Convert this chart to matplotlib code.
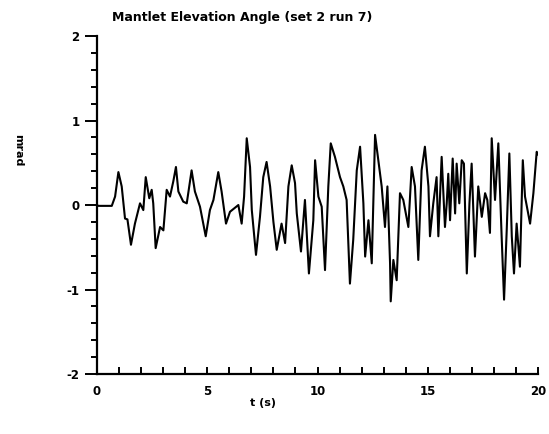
import matplotlib
matplotlib.use("Agg")
import matplotlib.pyplot as plt
from matplotlib.ticker import MultipleLocator

plt.rcParams["axes.unicode_minus"] = False

# valores (tempo em s, ângulo em mrad)
t = [0.0, 0.06, 0.67, 0.82, 0.97, 1.12, 1.27, 1.38, 1.54, 1.72, 1.95, 2.1, 2.21,
     2.37, 2.48, 2.55, 2.66, 2.86, 3.01, 3.16, 3.31, 3.46, 3.58, 3.69, 3.91, 4.07,
     4.29, 4.44, 4.67, 4.93, 5.12, 5.28, 5.5, 5.65, 5.85, 6.03, 6.41, 6.56, 6.67,
     6.79, 6.94, 7.02, 7.21, 7.39, 7.54, 7.69, 7.85, 8.0, 8.15, 8.37, 8.53, 8.68,
     8.83, 8.98, 9.06, 9.25, 9.43, 9.61, 9.81, 9.89, 10.04, 10.19, 10.34, 10.49,
     10.6, 10.79, 11.02, 11.17, 11.32, 11.47, 11.62, 11.78, 11.93, 12.08, 12.16,
     12.31, 12.46, 12.53, 12.61, 12.76, 12.91, 13.06, 13.17, 13.29, 13.32, 13.44,
     13.59, 13.74, 13.89, 14.12, 14.27, 14.42, 14.57, 14.72, 14.87, 15.03, 15.1,
     15.25, 15.4, 15.48, 15.63, 15.78, 15.86, 15.93, 16.01, 16.13, 16.24, 16.31,
     16.43, 16.54, 16.64, 16.77, 16.89, 16.99, 17.14, 17.29, 17.45, 17.6, 17.7,
     17.82, 17.9, 18.05, 18.2, 18.35, 18.46, 18.58, 18.7, 18.81, 18.91, 19.03,
     19.18, 19.31, 19.41, 19.64, 19.79, 19.94, 20.0]
angulo = [0.0, -0.01, -0.01, 0.10, 0.39, 0.22, -0.16, -0.17, -0.47, -0.22, 0.02,
          -0.06, 0.33, 0.08, 0.18, 0.02, -0.51, -0.26, -0.30, 0.18, 0.10, 0.28, 0.45,
          0.16, 0.04, 0.02, 0.41, 0.16, -0.02, -0.37, -0.06, 0.06, 0.39, 0.16, -0.22,
          -0.08, 0.00, -0.22, 0.10, 0.79, 0.45, -0.06, -0.59, -0.14, 0.33, 0.51, 0.22,
          -0.20, -0.53, -0.22, -0.45, 0.22, 0.47, 0.26, -0.10, -0.55, 0.06, -0.81,
          -0.18, 0.53, 0.10, -0.02, -0.77, 0.22, 0.73, 0.57, 0.33, 0.22, 0.06, -0.93,
          -0.41, 0.41, 0.69, 0.02, -0.61, -0.18, -0.69, 0.02, 0.83, 0.53, 0.22, -0.26,
          0.22, -0.69, -1.14, -0.65, -0.89, 0.14, 0.06, -0.26, 0.45, 0.22, -0.65, 0.41,
          0.69, 0.22, -0.37, 0.02, 0.33, -0.37, 0.57, -0.26, 0.02, 0.37, -0.18, 0.55,
          -0.10, 0.49, 0.02, 0.53, 0.49, -0.81, 0.02, 0.49, -0.61, 0.22, -0.14, 0.14,
          0.06, -0.33, 0.79, 0.06, 0.73, -0.37, -1.12, -0.30, 0.61, -0.37, -0.81,
          -0.22, -0.73, 0.53, 0.10, -0.22, 0.14, 0.63, 0.60]

fig = plt.figure(figsize=(5.49, 4.34), dpi=100)
ax = fig.add_axes([0.1767, 0.1382, 0.8033, 0.7788])

ax.plot(t, angulo, color="black", linewidth=1.5)

ax.set_xlim(0, 20)
ax.set_ylim(-2, 2)

ax.spines["top"].set_visible(False)
ax.spines["right"].set_visible(False)
ax.spines["left"].set_linewidth(1.6)
ax.spines["bottom"].set_linewidth(1.6)

ax.xaxis.set_major_locator(MultipleLocator(5))
ax.xaxis.set_minor_locator(MultipleLocator(1))
ax.yaxis.set_major_locator(MultipleLocator(1))
ax.yaxis.set_minor_locator(MultipleLocator(0.2))

ax.tick_params(axis="x", which="both", direction="in", length=5, width=1.4, pad=8)
ax.tick_params(axis="y", which="major", direction="out", length=9, width=1.4)
ax.tick_params(axis="y", which="minor", direction="out", length=4, width=1.4)

for lbl in ax.get_xticklabels() + ax.get_yticklabels():
    lbl.set_fontweight("bold")
    lbl.set_fontsize(8.5)

fig.text(112 / 549, 1 - 18 / 434, "Mantlet Elevation Angle (set 2 run 7)",
         fontsize=9, fontweight="bold", ha="left", va="center")
fig.text(263 / 549, 1 - 403 / 434, "t (s)", fontsize=8, fontweight="bold",
         ha="center", va="center")
fig.text(18 / 549, 1 - 150 / 434, "mrad", fontsize=8, fontweight="bold",
         rotation=270, ha="center", va="center")

fig.savefig("out.png", dpi=100)
